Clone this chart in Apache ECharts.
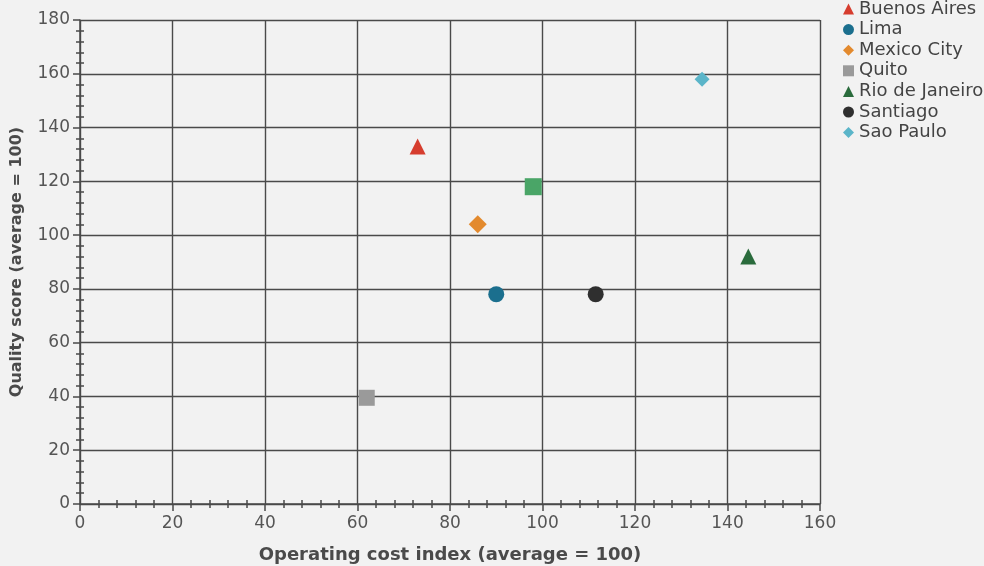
<!DOCTYPE html>
<html>
<head>
<meta charset="utf-8">
<script src="https://cdn.jsdelivr.net/npm/echarts@6/dist/echarts.min.js"></script>
<style>
html,body{margin:0;padding:0;background:#f2f2f2;}
#chart{width:984px;height:566px;}
</style>
</head>
<body>
<div id="chart"></div>
<script>
// Data
var cities = ['Buenos Aires', 'Lima', 'Mexico City', 'Quito', 'Rio de Janeiro', 'Santiago', 'Sao Paulo'];
var costIndex = [73, 90, 86, 62, 144.5, 111.5, 134.5];
var qualityScore = [133, 78, 104, 39.5, 92, 78, 158];
var unlabeledPoint = [98, 118];
var xTicks = [0, 20, 40, 60, 80, 100, 120, 140, 160];
var yTicks = [0, 20, 40, 60, 80, 100, 120, 140, 160, 180];

var symbols = ['triangle', 'circle', 'diamond', 'rect', 'triangle', 'circle', 'diamond'];
var sizes = [16, 16, 18, 16, 16, 16, 15];
var colors = ['#d63d2e', '#1b6f8e', '#e38a2e', '#9a9a9a', '#2a6b3c', '#2f2f2f', '#5bb5c9'];

var font = 'DejaVu Sans';
var gridColor = '#4a4a4a';
var labelColor = '#555555';

var series = cities.map(function (c, i) {
  return {
    name: c,
    type: 'scatter',
    symbol: symbols[i],
    symbolSize: sizes[i],
    itemStyle: { color: colors[i], opacity: 1 },
    data: [[costIndex[i], qualityScore[i]]],
    z: 5
  };
});
series.push({
  name: 'Other',
  type: 'scatter',
  symbol: 'rect',
  symbolSize: 17,
  itemStyle: { color: '#4aa567', opacity: 1 },
  data: [unlabeledPoint],
  z: 5
});

var xMin = xTicks[0], xMax = xTicks[xTicks.length - 1], xInt = xTicks[1] - xTicks[0];
var yMin = yTicks[0], yMax = yTicks[yTicks.length - 1], yInt = yTicks[1] - yTicks[0];

function mainAxis(isX) {
  return {
    type: 'value',
    min: isX ? xMin : yMin,
    max: isX ? xMax : yMax,
    interval: isX ? xInt : yInt,
    position: isX ? 'bottom' : 'left',
    name: isX ? 'Operating cost index (average = 100)' : 'Quality score (average = 100)',
    nameLocation: 'middle',
    nameGap: isX ? 42 : 55,
    nameTextStyle: { fontFamily: font, fontSize: isX ? 18 : 16, fontWeight: 'bold', color: '#4a4a4a' },
    axisLine: { show: true, onZero: false, lineStyle: { color: gridColor, width: 1.5 } },
    axisTick: { show: true, length: 7, lineStyle: { color: gridColor, width: 1.5 } },
    minorTick: { show: true, splitNumber: 5, length: 4, lineStyle: { color: gridColor, width: 1.5 } },
    axisLabel: { fontFamily: font, fontSize: 17, color: labelColor, margin: isX ? 11 : 10 },
    splitLine: { show: true, showMinLine: true, showMaxLine: true, lineStyle: { color: gridColor, width: 1.4 } }
  };
}
function innerAxis(isX) {
  return {
    type: 'value',
    min: isX ? xMin : yMin,
    max: isX ? xMax : yMax,
    interval: isX ? xInt : yInt,
    position: isX ? 'bottom' : 'left',
    axisLine: { show: false, onZero: false },
    axisTick: { show: false, inside: true },
    minorTick: { show: true, splitNumber: 5, length: 4, lineStyle: { color: gridColor, width: 1.5 } },
    axisLabel: { show: false },
    splitLine: { show: false }
  };
}

var chart = echarts.init(document.getElementById('chart'), null, { renderer: 'canvas' });
chart.setOption({
  backgroundColor: '#f2f2f2',
  animation: false,
  grid: { left: 80, right: 164, top: 20, bottom: 62, outerBoundsMode: 'none', containLabel: false },
  legend: {
    data: cities,
    orient: 'vertical',
    left: 838,
    top: -5,
    itemWidth: 11,
    itemHeight: 11,
    itemGap: 2.6,
    textStyle: { fontFamily: font, fontSize: 18, color: '#444444', lineHeight: 18 }
  },
  xAxis: [mainAxis(true), innerAxis(true)],
  yAxis: [mainAxis(false), innerAxis(false)],
  series: series
});
</script>
</body>
</html>
